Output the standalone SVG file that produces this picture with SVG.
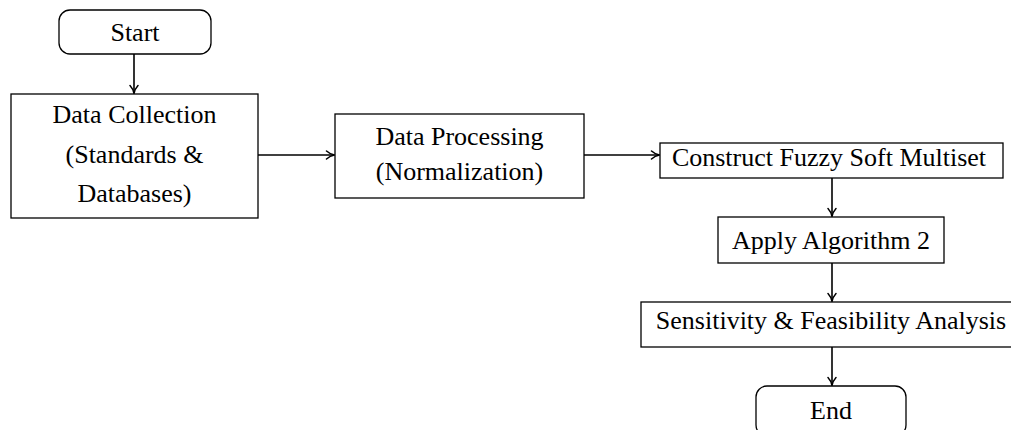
<svg xmlns="http://www.w3.org/2000/svg" width="1011" height="430" viewBox="0 0 1011 430">
  <style>
    .box { fill: #ffffff; stroke: #000000; stroke-width: 1.3; }
    .lbl { font-family: "Liberation Serif", "Times New Roman", serif; font-size: 26px; fill: #000000; text-anchor: middle; }
    .edge { fill: none; stroke: #000000; stroke-width: 1.6; marker-end: url(#arrow); }
  </style>
  <defs>
    <marker id="arrow" viewBox="0 0 10 10" refX="9" refY="5" markerWidth="10" markerHeight="10" markerUnits="userSpaceOnUse" orient="auto">
      <path d="M1.5,1 Q5,4.2 9.5,5 Q5,5.8 1.5,9" fill="none" stroke="#000000" stroke-width="1.5" stroke-linecap="round" stroke-linejoin="round"/>
    </marker>
  </defs>
  <rect width="1011" height="430" fill="#ffffff"/>

  <g id="connectors">
    <path class="edge" d="M134,54 V93"/>
    <path class="edge" d="M258,155 H334"/>
    <path class="edge" d="M584,155 H659"/>
    <path class="edge" d="M832,178 V216"/>
    <path class="edge" d="M832,263 V301"/>
    <path class="edge" d="M832,347 V385"/>
  </g>

  <g id="start">
    <rect class="box" x="59" y="10" width="152" height="44" rx="11"/>
    <text class="lbl" x="135" y="41">Start</text>
  </g>

  <g id="data-collection">
    <rect class="box" x="11" y="94" width="247" height="124"/>
    <text class="lbl" x="134.5" y="123">Data Collection</text>
    <text class="lbl" x="134.5" y="163">(Standards &amp;</text>
    <text class="lbl" x="134.5" y="202">Databases)</text>
  </g>

  <g id="data-processing">
    <rect class="box" x="335" y="114" width="249" height="84"/>
    <text class="lbl" x="459.5" y="145">Data Processing</text>
    <text class="lbl" x="459.5" y="180">(Normalization)</text>
  </g>

  <g id="construct">
    <rect class="box" x="660" y="143" width="343" height="35"/>
    <text class="lbl" x="829" y="166">Construct Fuzzy Soft Multiset</text>
  </g>

  <g id="apply">
    <rect class="box" x="718" y="217" width="226" height="46"/>
    <text class="lbl" x="831" y="249">Apply Algorithm 2</text>
  </g>

  <g id="analysis">
    <rect class="box" x="641" y="302" width="384" height="45"/>
    <text class="lbl" x="831" y="329">Sensitivity &amp; Feasibility Analysis</text>
  </g>

  <g id="end">
    <rect class="box" x="756" y="386" width="150" height="50" rx="11"/>
    <text class="lbl" x="831" y="419">End</text>
  </g>
</svg>
